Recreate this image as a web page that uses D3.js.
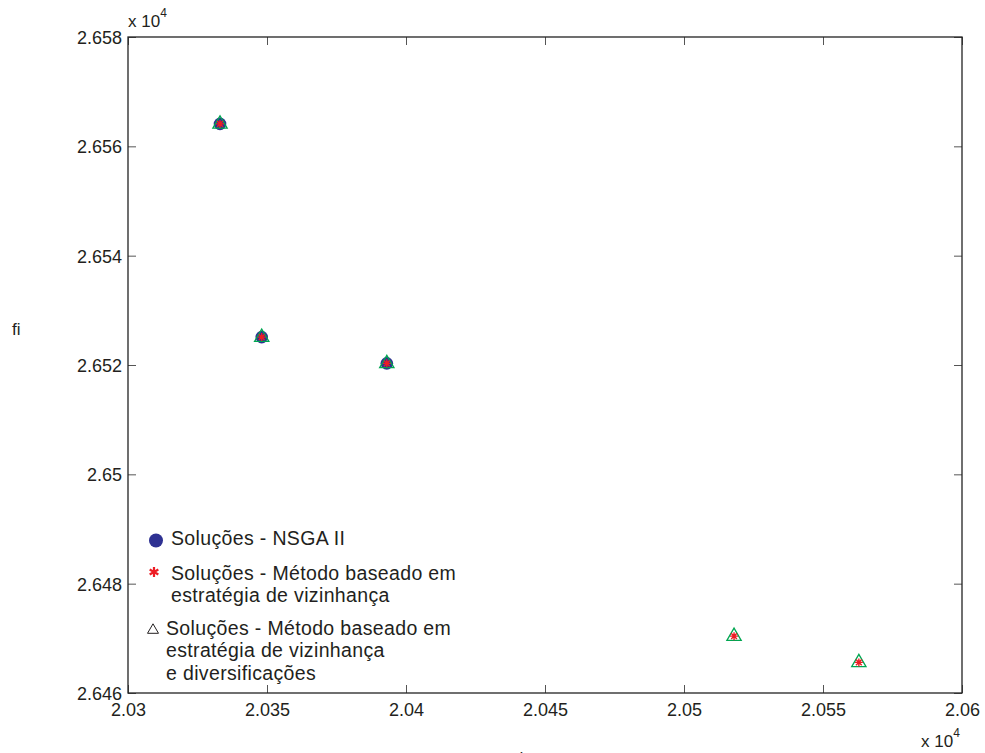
<!DOCTYPE html>
<html>
<head>
<meta charset="utf-8">
<script src="https://cdn.jsdelivr.net/npm/d3@7"></script>
<style>
  html, body { margin: 0; padding: 0; background: #fff; }
  svg { display: block; font-family: "Liberation Sans", Arial, Helvetica, sans-serif; }
</style>
</head>
<body>
<svg id="chart" width="985" height="753"></svg>
<script>
// Objective values, shown in units of 10^4
const nsgaX = [2.03331, 2.03481, 2.03931];
const nsgaY = [2.65641, 2.65251, 2.65203];

const vizX = [2.03331, 2.03481, 2.03931, 2.05180, 2.05629];
const vizY = [2.65641, 2.65251, 2.65203, 2.64704, 2.64656];

const divX = [2.03331, 2.03481, 2.03931, 2.05180, 2.05629];
const divY = [2.65641, 2.65251, 2.65203, 2.64704, 2.64656];

const xTicks = [2.03, 2.035, 2.04, 2.045, 2.05, 2.055, 2.06];
const yTicks = [2.646, 2.648, 2.65, 2.652, 2.654, 2.656, 2.658];

const legendLabels = [
  ["Soluções - NSGA II"],
  ["Soluções - Método baseado em", "estratégia de vizinhança"],
  ["Soluções - Método baseado em", "estratégia de vizinhança", "e diversificações"]
];

const colBlue = "#2e3192", colRed = "#ed1c24", colGreen = "#00a651", ink = "#231f20";

const svg = d3.select("#chart");
const L = 128, R = 962, T = 37, B = 693;

const x = d3.scaleLinear().domain([2.03, 2.06]).range([L, R]);
const y = d3.scaleLinear().domain([2.646, 2.658]).range([B, T]);
const fmt = v => String(+v.toFixed(3));

// axes with inward ticks on all four sides
const axB = svg.append("g").attr("transform", `translate(0,${B})`)
  .call(d3.axisBottom(x).tickValues(xTicks).tickFormat(fmt).tickSize(-8).tickPadding(10));
const axT = svg.append("g").attr("transform", `translate(0,${T})`)
  .call(d3.axisTop(x).tickValues(xTicks).tickFormat("").tickSize(-8));
const axL = svg.append("g").attr("transform", `translate(${L},0)`)
  .call(d3.axisLeft(y).tickValues(yTicks).tickFormat(fmt).tickSize(-8).tickPadding(6));
const axR = svg.append("g").attr("transform", `translate(${R},0)`)
  .call(d3.axisRight(y).tickValues(yTicks).tickFormat("").tickSize(-8));

[axB, axT, axL, axR].forEach(g => {
  g.select(".domain").remove();
  g.selectAll(".tick line").attr("stroke", "#555").attr("stroke-width", 1);
  g.selectAll(".tick text").attr("fill", ink).style("font-size", "18px")
    .style("font-family", '"Liberation Sans", Arial, Helvetica, sans-serif');
});
axB.selectAll(".tick text").attr("dy", "0.71em");
axL.selectAll(".tick text").attr("dy", "0.36em");

svg.append("rect").attr("x", L).attr("y", T).attr("width", R - L).attr("height", B - T)
  .attr("fill", "none").attr("stroke", "#222").attr("stroke-width", 1.3);

// exponent labels
function expLabel(px, py) {
  const t = svg.append("text").attr("x", px).attr("y", py).attr("fill", ink).style("font-size", "17px");
  t.append("tspan").text("x 10");
  t.append("tspan").attr("dy", -10).style("font-size", "12px").text("4");
}
expLabel(128, 27);
expLabel(921, 747);
svg.append("text").attr("x", 517).attr("y", 761).attr("fill", ink).style("font-size", "12px").text("4");

// y label
svg.append("text").attr("x", 12).attr("y", 335).attr("fill", ink).style("font-size", "17px").text("fi");

// marker shapes
const triPath = s => `M0,${-s * 0.62}L${s * 0.55},${s * 0.33}L${-s * 0.55},${s * 0.33}Z`;
function starPath(s) {
  const h = s / 2, d = h * 0.72;
  return `M${-h},0L${h},0M0,${-h}L0,${h}M${-d},${-d}L${d},${d}M${-d},${d}L${d},${-d}`;
}
function asteriskPath(s) {
  const h = s / 2, c = h * Math.cos(Math.PI / 6), v = h * 0.5;
  return `M0,${-h}L0,${h}M${-c},${-v}L${c},${v}M${-c},${v}L${c},${-v}`;
}

const plot = svg.append("g");
plot.selectAll("circle.nsga").data(d3.range(nsgaX.length)).join("circle")
  .attr("class", "nsga")
  .attr("cx", i => x(nsgaX[i])).attr("cy", i => y(nsgaY[i])).attr("r", 6.3)
  .attr("fill", colBlue);

plot.selectAll("path.div").data(d3.range(divX.length)).join("path")
  .attr("class", "div")
  .attr("transform", i => `translate(${x(divX[i])},${y(divY[i])})`)
  .attr("d", triPath(13)).attr("fill", "none").attr("stroke", colGreen).attr("stroke-width", 1.3);

plot.selectAll("path.viz").data(d3.range(vizX.length)).join("path")
  .attr("class", "viz")
  .attr("transform", i => `translate(${x(vizX[i])},${y(vizY[i])})`)
  .attr("d", starPath(8)).attr("fill", "none").attr("stroke", colRed).attr("stroke-width", 1.4);

// legend
const lg = svg.append("g");
lg.append("circle").attr("cx", 156).attr("cy", 540.5).attr("r", 7).attr("fill", colBlue);
lg.append("path").attr("transform", "translate(154,572)").attr("d", asteriskPath(10))
  .attr("fill", "none").attr("stroke", colRed).attr("stroke-width", 2.2);
lg.append("path").attr("transform", "translate(153,630)").attr("d", triPath(10))
  .attr("fill", "none").attr("stroke", ink).attr("stroke-width", 1);

const legendPos = [
  { x: 171, y: 545 },
  { x: 171, y: 579.5 },
  { x: 166, y: 635 }
];
legendLabels.forEach((lines, k) => {
  const t = lg.append("text").attr("x", legendPos[k].x).attr("y", legendPos[k].y)
    .attr("fill", ink).style("font-size", "19.5px").style("letter-spacing", "0.35px");
  lines.forEach((s, j) => {
    t.append("tspan").attr("x", legendPos[k].x).attr("dy", j === 0 ? 0 : 22.3).text(s);
  });
});
</script>
</body>
</html>
